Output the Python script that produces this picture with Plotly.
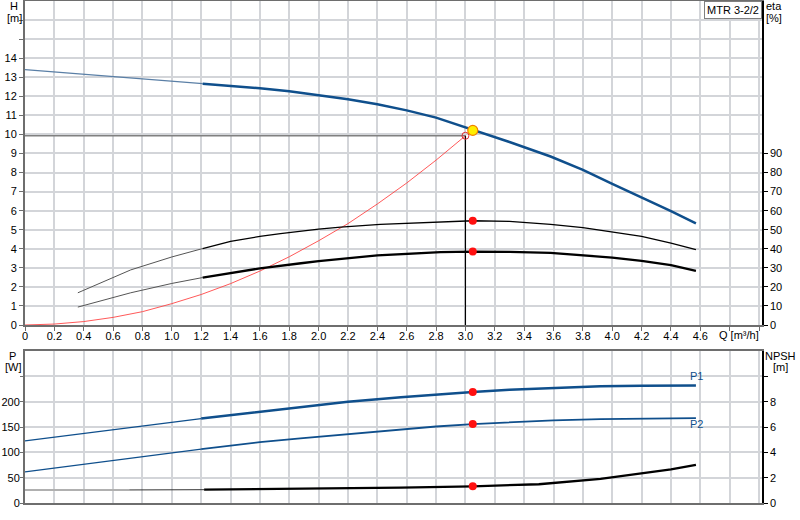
import plotly.graph_objects as go

# ---------------- data ----------------
# Pump curve H [m]
q_h_thin = [0, 0.2, 0.4, 0.6, 0.8, 1.0, 1.21]
h_thin = [13.40, 13.28, 13.15, 13.02, 12.92, 12.81, 12.66]
q_h = [1.21, 1.4, 1.6, 1.8, 2.0, 2.2, 2.4, 2.6, 2.8, 3.0, 3.3, 3.58, 3.8, 4.0, 4.2, 4.4, 4.57]
h_main = [12.66, 12.55, 12.42, 12.26, 12.05, 11.85, 11.58, 11.26, 10.88, 10.37, 9.6, 8.84, 8.14, 7.41, 6.71, 5.98, 5.33]

# System curve H [m]
q_sys = [0, 0.2, 0.4, 0.6, 0.8, 1.0, 1.2, 1.4, 1.6, 1.8, 2.0, 2.2, 2.4, 2.6, 2.8, 3.0]
h_sys = [0, 0.05, 0.18, 0.40, 0.70, 1.12, 1.60, 2.17, 2.83, 3.58, 4.42, 5.32, 6.35, 7.45, 8.65, 9.93]

# Efficiency eta [%]
q_eta1_thin = [0.36, 0.72, 1.0, 1.21]
eta1_thin = [16.9, 28.9, 35.7, 40.1]
q_eta1 = [1.21, 1.4, 1.6, 1.74, 2.0, 2.15, 2.42, 2.83, 3.05, 3.3, 3.58, 3.8, 4.0, 4.2, 4.4, 4.57]
eta1 = [40.1, 43.9, 46.5, 48.0, 50.3, 51.4, 52.8, 54.0, 54.7, 54.4, 52.8, 51.1, 48.8, 46.5, 43.0, 39.6]

q_eta2_thin = [0.36, 0.72, 1.0, 1.21]
eta2_thin = [9.4, 16.9, 21.8, 24.9]
q_eta2 = [1.21, 1.6, 1.88, 2.0, 2.4, 2.83, 3.05, 3.3, 3.58, 3.8, 4.0, 4.2, 4.4, 4.57]
eta2 = [24.9, 29.7, 32.4, 33.5, 36.5, 38.2, 38.5, 38.4, 37.8, 36.6, 35.4, 33.6, 31.4, 28.4]

# Power P [W]
q_p_thin = [0, 0.4, 0.8, 1.2]
p1_thin = [122.8, 137.4, 152.0, 166.6]
p2_thin = [61.4, 76.5, 91.5, 106.2]
q_p = [1.2, 1.6, 1.875, 2.2, 2.56, 2.8, 3.05, 3.3, 3.6, 3.92, 4.2, 4.57]
p1 = [166.6, 180.0, 190.0, 200.0, 208.7, 214.5, 219.2, 223.5, 227.5, 230.5, 231.5, 232.0]
p2 = [106.2, 120.0, 127.5, 136.0, 145.3, 151.0, 155.8, 159.5, 163.0, 165.7, 167.0, 167.7]

# NPSH [m]
q_npsh_gray = [0, 0.71]
npsh_gray = [1.03, 1.03]
q_npsh_thin = [0.71, 1.22]
npsh_thin = [1.03, 1.05]
q_npsh = [1.22, 1.6, 2.0, 2.56, 3.05, 3.5, 3.92, 4.2, 4.4, 4.57]
npsh = [1.06, 1.09, 1.13, 1.22, 1.32, 1.48, 1.9, 2.33, 2.65, 3.01]

# Duty / operating point
q_duty, h_duty = 3.0, 9.93
q_op, h_op = 3.05, 10.21
op_eta1, op_eta2, op_p1, op_p2, op_npsh = 54.7, 38.5, 219.2, 155.8, 1.32

# Ticks
x_tickvals = [0, 0.2, 0.4, 0.6, 0.8, 1.0, 1.2, 1.4, 1.6, 1.8, 2.0, 2.2, 2.4, 2.6, 2.8,
              3.0, 3.2, 3.4, 3.6, 3.8, 4.0, 4.2, 4.4, 4.6, 4.8, 5.0]
x_ticktext = ["0", "0.2", "0.4", "0.6", "0.8", "1.0", "1.2", "1.4", "1.6", "1.8", "2.0",
              "2.2", "2.4", "2.6", "2.8", "3.0", "3.2", "3.4", "3.6", "3.8", "4.0", "4.2",
              "4.4", "4.6", "", ""]
h_tickvals = list(range(0, 17))
h_ticktext = [str(v) for v in range(0, 15)] + ["", ""]
eta_tickvals = [0, 10, 20, 30, 40, 50, 60, 70, 80, 90]
p_tickvals = [0, 50, 100, 150, 200, 250]
p_ticktext = ["0", "50", "100", "150", "200", ""]
npsh_tickvals = [0, 2, 4, 6, 8, 10]
npsh_ticktext = ["0", "2", "4", "6", "8", ""]

model_name = "MTR 3-2/2"

# ---------------- styling ----------------
BLUE = "#0f4f8c"
GRID = "#d3d5d9"
W, HGT = 800, 520
ML, MR, MT, MB = 25, 38, 1, 17
PW, PH = W - ML - MR, HGT - MT - MB


def px_x(px):
    return (px - ML) / PW


def px_y(py):
    return 1 - (py - MT) / PH


top_dom = [px_y(325), 1.0]
bot_dom = [0.0, px_y(351)]

fig = go.Figure()


def line(x, y, color, width, xa="x", ya="y"):
    fig.add_trace(go.Scatter(x=x, y=y, mode="lines", line=dict(color=color, width=width),
                             xaxis=xa, yaxis=ya, hoverinfo="skip", showlegend=False))


# top plot
line([0, q_duty], [h_duty, h_duty], "#808080", 1.5)
line([q_duty, q_duty], [h_duty, 0], "black", 1.2)
line(q_sys, h_sys, "rgba(255,60,60,0.85)", 1)
line(q_h_thin, h_thin, "#5a7fa6", 1.2)
line(q_h, h_main, BLUE, 2.5)
line(q_eta1_thin, [v / 10 for v in eta1_thin], "#555555", 1)
line(q_eta1, [v / 10 for v in eta1], "black", 1.3)
line(q_eta2_thin, [v / 10 for v in eta2_thin], "#555555", 1)
line(q_eta2, [v / 10 for v in eta2], "black", 2.3)
fig.add_trace(go.Scatter(x=[q_duty], y=[h_duty], mode="markers",
                         marker=dict(size=7, color="rgba(0,0,0,0)", line=dict(color="#e03030", width=1)),
                         hoverinfo="skip", showlegend=False))
fig.add_trace(go.Scatter(x=[q_op, q_op], y=[op_eta1, op_eta2], mode="markers",
                         marker=dict(size=8, color="#ff1010"), xaxis="x", yaxis="y2",
                         hoverinfo="skip", showlegend=False))
fig.add_trace(go.Scatter(x=[q_op], y=[h_op], mode="markers",
                         marker=dict(size=10, color="#ffee00", line=dict(color="#f08000", width=1.2)),
                         hoverinfo="skip", showlegend=False))

# bottom plot
line(q_p_thin, p1_thin, BLUE, 1.2, "x2", "y3")
line(q_p, p1, BLUE, 2.5, "x2", "y3")
line(q_p_thin, p2_thin, BLUE, 1.2, "x2", "y3")
line(q_p, p2, BLUE, 1.8, "x2", "y3")
line(q_npsh_gray, npsh_gray, "#b0b0b0", 2, "x2", "y4")
line(q_npsh_thin, npsh_thin, "#333333", 1, "x2", "y4")
line(q_npsh, npsh, "black", 2.3, "x2", "y4")
fig.add_trace(go.Scatter(x=[q_op, q_op], y=[op_p1, op_p2], mode="markers",
                         marker=dict(size=8, color="#ff1010"), xaxis="x2", yaxis="y3",
                         hoverinfo="skip", showlegend=False))
fig.add_trace(go.Scatter(x=[q_op], y=[op_npsh], mode="markers",
                         marker=dict(size=8, color="#ff1010"), xaxis="x2", yaxis="y4",
                         hoverinfo="skip", showlegend=False))

FONT = dict(family="Liberation Sans, Arial, sans-serif", size=11, color="black")
xrange_ = [0, 5.02]

fig.update_layout(
    width=W, height=HGT, margin=dict(l=ML, r=MR, t=MT, b=MB, autoexpand=False),
    paper_bgcolor="white", plot_bgcolor="white", font=FONT, showlegend=False,
    xaxis=dict(domain=[0, 1], range=xrange_, anchor="y", tickmode="array",
               tickvals=x_tickvals, ticktext=x_ticktext, showgrid=True, gridcolor=GRID,
               gridwidth=1.5, zeroline=False, showline=True, linecolor="#6e6e6e", linewidth=2,
               mirror=True, ticks="outside", ticklen=4, tickcolor="#6e6e6e", tickfont=FONT,
               ticklabelstandoff=-4, automargin=False),
    yaxis=dict(domain=top_dom, range=[0, 17], tickmode="array", tickvals=h_tickvals,
               ticktext=h_ticktext, showgrid=True, gridcolor=GRID, gridwidth=1.5, zeroline=False,
               showline=True, linecolor="#6e6e6e", linewidth=2, ticks="outside", ticklen=4,
               tickcolor="#6e6e6e", tickfont=FONT, automargin=False),
    yaxis2=dict(overlaying="y", side="right", range=[0, 170], tickmode="array",
                tickvals=eta_tickvals, showgrid=False, zeroline=False, showline=True,
                linecolor="black", linewidth=1.5, ticks="outside", ticklen=4, tickcolor="black",
                tickfont=FONT, anchor="x", automargin=False),
    xaxis2=dict(domain=[0, 1], range=xrange_, anchor="y3", tickmode="array",
                tickvals=x_tickvals, showticklabels=False, showgrid=True, gridcolor=GRID,
                gridwidth=1.5, zeroline=False, showline=True, linecolor="#6e6e6e", linewidth=2,
                mirror=True, ticks="", automargin=False),
    yaxis3=dict(domain=bot_dom, range=[0, 300], anchor="x2", tickmode="array",
                tickvals=p_tickvals, ticktext=p_ticktext, showgrid=True, gridcolor=GRID,
                gridwidth=1.5, zeroline=False, showline=True, linecolor="#6e6e6e", linewidth=2,
                ticks="outside", ticklen=3, tickcolor="#6e6e6e", tickfont=FONT,
                ticklabelstandoff=-2, automargin=False),
    yaxis4=dict(overlaying="y3", side="right", range=[0, 12], anchor="x2", tickmode="array",
                tickvals=npsh_tickvals, ticktext=npsh_ticktext, showgrid=False, zeroline=False,
                showline=True, linecolor="black", linewidth=1.5, ticks="outside", ticklen=4,
                tickcolor="black", tickfont=FONT, automargin=False),
)


def label(text, px, py, color="black", xanchor="center"):
    fig.add_annotation(text=text, x=px_x(px), y=px_y(py), xref="paper", yref="paper",
                       showarrow=False, xanchor=xanchor, yanchor="middle",
                       font=dict(family=FONT["family"], size=11, color=color))


label("H", 14, 6)
label("[m]", 14, 18)
label("eta", 774, 6)
label("[%]", 774, 18)
label("P", 12, 356)
label("[W]", 13, 367)
label("NPSH", 780, 356)
label("[m]", 780, 367)
label("Q [m³/h]", 739, 335)
label("P1", 696, 376, BLUE)
label("P2", 696, 424, BLUE)

fig.add_annotation(text=model_name, x=1, y=1, xref="paper", yref="paper", showarrow=False,
                   xanchor="right", yanchor="top", bgcolor="white", bordercolor="#808080",
                   borderwidth=1, borderpad=2,
                   font=dict(family=FONT["family"], size=11, color="black"))

fig.write_html("out.html", config={"displayModeBar": False},
               post_script="document.body.style.margin='0';document.body.style.overflow='hidden';")
